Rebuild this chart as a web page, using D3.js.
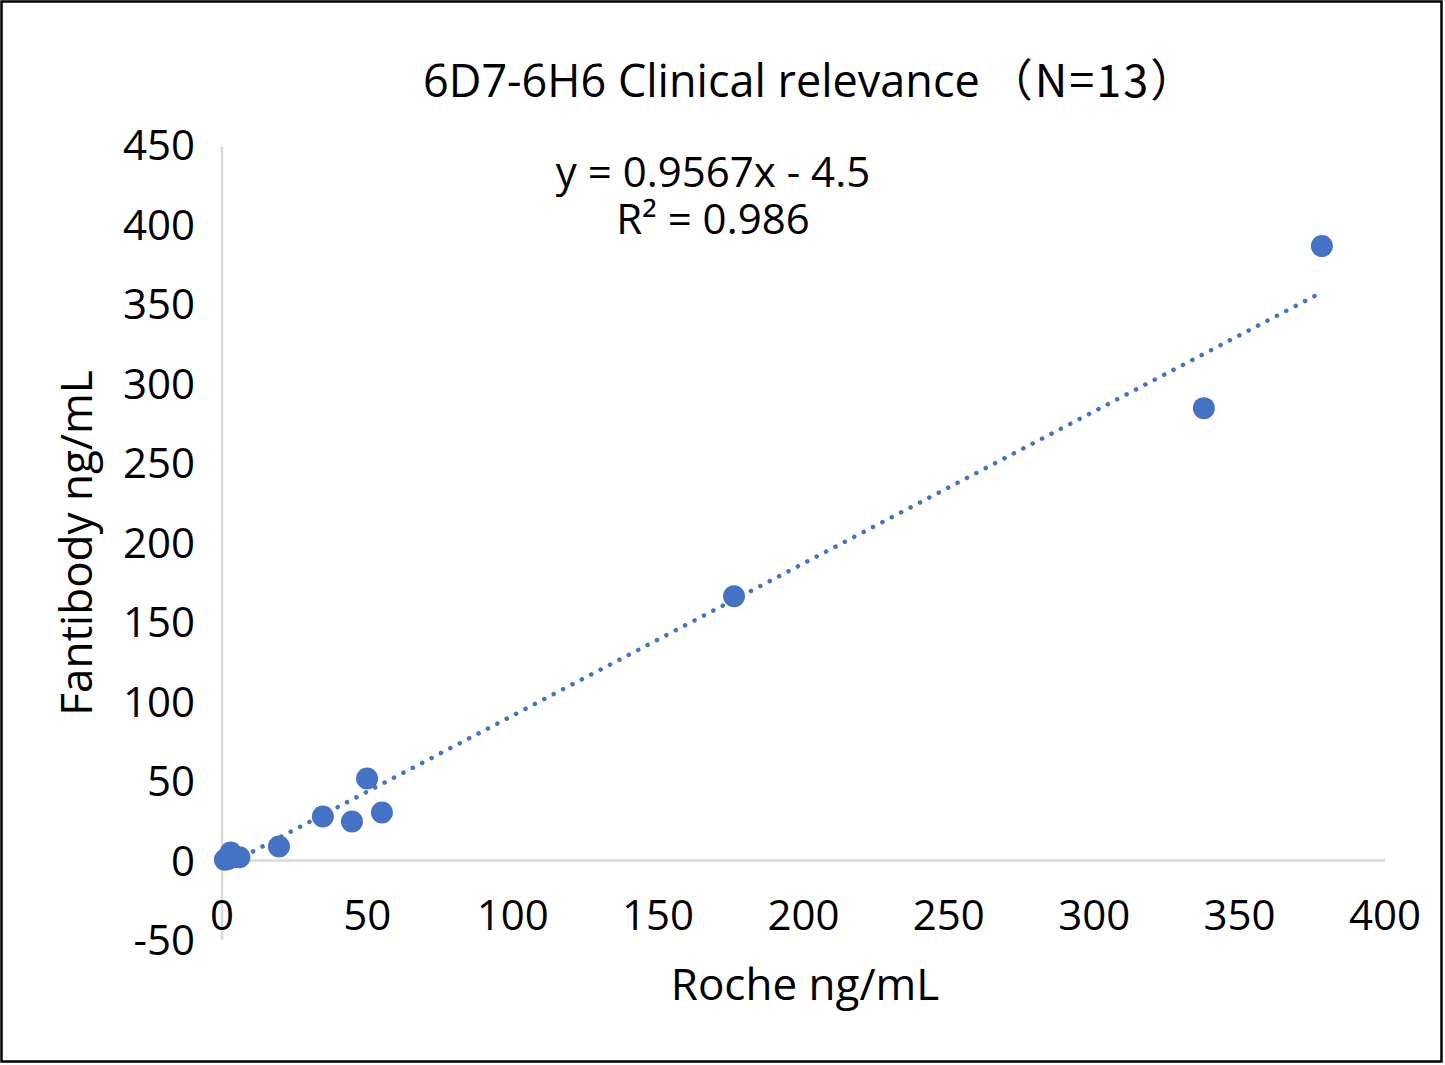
<!DOCTYPE html>
<html lang="en">
<head>
    <meta charset="UTF-8">
    <title>6D7-6H6 Clinical relevance</title>
    <script src="https://d3js.org/d3.v7.min.js"></script>
    <style>
        body {
            margin: 0;
            padding: 0;
            background-color: white;
        }
        text {
            font-family: 'Open Sans', 'Noto Sans', sans-serif;
            fill: #000;
        }
    </style>
</head>
<body>
    <div id="chart"></div>

    <script>
    // Data
    const rocheValues      = [1, 2, 3, 4, 6, 19.6, 34.7, 44.7, 49.9, 55.0, 176.1, 337.7, 378.3];
    const fantibodyValues  = [0.5, 1, 5, 2, 2, 8.8, 27.7, 24.5, 51.6, 30.2, 166.2, 284.5, 386.4];
    const xTicks = [0, 50, 100, 150, 200, 250, 300, 350, 400];
    const yTicks = [-50, 0, 50, 100, 150, 200, 250, 300, 350, 400, 450];
    const slope = 0.9567;
    const intercept = -4.5;

    const titleMain = "6D7-6H6 Clinical relevance";
    const titleN = "（N=13）";
    const xTitle = "Roche ng/mL";
    const yTitle = "Fantibody ng/mL";
    const eqLines = ["y = 0.9567x - 4.5", "R² = 0.986"];

    const STYLES = {
        width: 1445,
        height: 1065,
        pointColor: "#4472C4",
        axisColor: "#d9d9d9",
        tickFont: "42px",
        titleFont: "45px",
        plot: { left: 222, right: 1385, top: 145, bottom: 940 }
    };

    const svg = d3.select("#chart")
        .append("svg")
        .attr("width", STYLES.width)
        .attr("height", STYLES.height);

    // outer border
    svg.append("rect")
        .attr("x", 1.5)
        .attr("y", 1.5)
        .attr("width", 1440)
        .attr("height", 1060)
        .attr("fill", "white")
        .attr("stroke", "#000")
        .attr("stroke-width", 2.5);

    const x = d3.scaleLinear()
        .domain([0, 400])
        .range([STYLES.plot.left, STYLES.plot.right]);

    const y = d3.scaleLinear()
        .domain([-50, 450])
        .range([STYLES.plot.bottom, STYLES.plot.top]);

    // axis lines (Excel style: crossing at zero)
    svg.append("line")
        .attr("x1", x(0)).attr("x2", x(0))
        .attr("y1", y(450) + 2).attr("y2", y(-50))
        .attr("stroke", STYLES.axisColor)
        .attr("stroke-width", 2.5);

    svg.append("line")
        .attr("x1", x(0)).attr("x2", x(400))
        .attr("y1", y(0)).attr("y2", y(0))
        .attr("stroke", STYLES.axisColor)
        .attr("stroke-width", 2.5);

    // tick labels
    svg.append("g")
        .selectAll("text")
        .data(yTicks)
        .enter().append("text")
        .attr("x", 195)
        .attr("y", d => y(d))
        .attr("dy", "0.36em")
        .attr("text-anchor", "end")
        .style("font-size", STYLES.tickFont)
        .text(d => d);

    svg.append("g")
        .selectAll("text")
        .data(xTicks)
        .enter().append("text")
        .attr("x", d => x(d))
        .attr("y", 930)
        .attr("text-anchor", "middle")
        .style("font-size", STYLES.tickFont)
        .text(d => d);

    // trendline
    const xMin = d3.min(rocheValues);
    const xMax = d3.max(rocheValues);
    svg.append("line")
        .attr("x1", x(xMin))
        .attr("y1", y(slope * xMin + intercept))
        .attr("x2", x(xMax))
        .attr("y2", y(slope * xMax + intercept))
        .attr("stroke", STYLES.pointColor)
        .attr("stroke-width", 4.5)
        .attr("stroke-linecap", "round")
        .attr("stroke-dasharray", "0.1 10.5");

    // points
    svg.append("g")
        .selectAll("circle")
        .data(rocheValues)
        .enter().append("circle")
        .attr("cx", d => x(d))
        .attr("cy", (d, i) => y(fantibodyValues[i]))
        .attr("r", 11)
        .attr("fill", STYLES.pointColor);

    // title
    const title = svg.append("text")
        .attr("x", 423)
        .attr("y", 97)
        .attr("text-anchor", "start")
        .style("font-size", STYLES.titleFont);
    title.append("tspan").text(titleMain);
    title.append("tspan")
        .attr("dx", 8)
        .style("font-family", "'Noto Sans CJK SC', sans-serif")
        .style("letter-spacing", "2px")
        .text(titleN);

    // trendline equation, two lines in one label
    svg.append("text")
        .attr("y", 187)
        .attr("text-anchor", "middle")
        .style("font-size", "42px")
        .selectAll("tspan")
        .data(eqLines)
        .enter().append("tspan")
        .attr("x", 713)
        .attr("dy", (d, i) => i === 0 ? 0 : 47)
        .text(d => d);

    // axis titles
    svg.append("text")
        .attr("x", 805)
        .attr("y", 1000)
        .attr("text-anchor", "middle")
        .style("font-size", "44px")
        .text(xTitle);

    svg.append("text")
        .attr("transform", "translate(92,543) rotate(-90)")
        .attr("text-anchor", "middle")
        .style("font-size", "44px")
        .text(yTitle);
    </script>
</body>
</html>
